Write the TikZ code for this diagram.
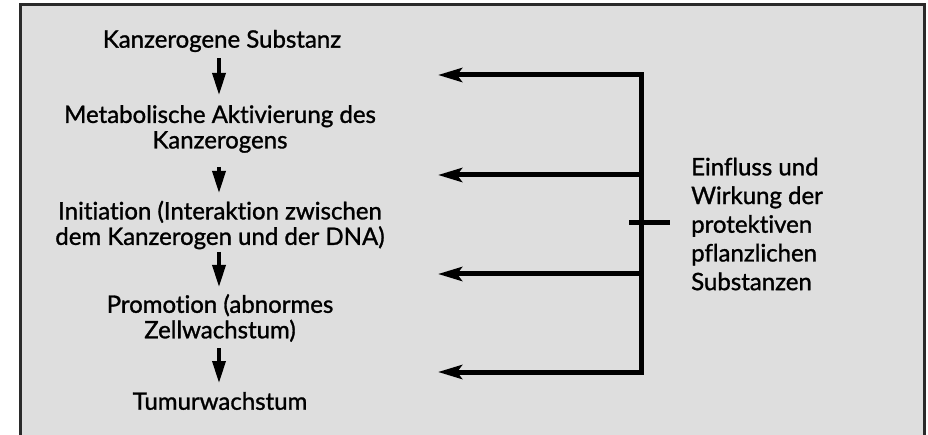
\documentclass[tikz,border=0pt]{standalone}
\usepackage{fontspec}
\setmainfont{Lato}[FakeBold=1.2,Ligatures=NoCommon]
\usetikzlibrary{arrows.meta}
\definecolor{bgray}{HTML}{DEDEDE}
\definecolor{frame}{HTML}{2A2A2A}
\begin{document}
\begin{tikzpicture}[x=1pt,y=-1pt,
  stepbox/.style={align=center,inner sep=0pt,font=\fontsize{24}{25.5}\selectfont},
  sidetext/.style={align=left,inner sep=0pt,anchor=west,font=\fontsize{24}{28.7}\selectfont},
  downarr/.style={line width=3.5pt,-{Triangle[length=22pt,width=13pt]}},
  leftarr/.style={line width=5pt,-{Stealth[length=24pt,width=14pt,inset=5pt]}},
  bar/.style={line width=5pt}]
\useasboundingbox (0,0) rectangle (928,435);
\fill[bgray] (20,4) rectangle (925,435);
\draw[frame,line width=2.5pt] (20.5,435) -- (20.5,4.5) -- (924.5,4.5) -- (924.5,435);
% left column
\node[stepbox] (n1) at (222,41) {Kanzerogene Substanz};
\node[stepbox] (n2) at (220,129) {Metabolische Aktivierung des\\Kanzerogens};
\node[stepbox] (n3) at (220,225) {Initiation (Interaktion zwischen\\dem Kanzerogen und der DNA)};
\node[stepbox] (n4) at (220,318) {Promotion (abnormes\\Zellwachstum)};
\node[stepbox] (n5) at (220,401) {Tumurwachstum};
\draw[downarr] (n1.south) ++(-3,6) -- (219,95);
\draw[downarr] (219,167) -- (219,193);
\draw[downarr] (219,252) -- (219,287);
\draw[downarr] (219,348) -- (219,383);
% right side
\coordinate (j1) at (641,75);
\coordinate (j2) at (641,175);
\coordinate (j3) at (641,274);
\coordinate (j4) at (641,372);
\coordinate (t1) at (438,75);
\coordinate (t2) at (438,175);
\coordinate (t3) at (438,274);
\coordinate (t4) at (438,372);
\coordinate (k1) at (629,223);
\coordinate (k2) at (670,223);
\draw[bar,line cap=rect] (j1) -- (j4);
\draw[leftarr] (j1) -- (t1);
\draw[leftarr] (j2) -- (t2);
\draw[leftarr] (j3) -- (t3);
\draw[leftarr] (j4) -- (t4);
\draw[bar] (k1) -- (k2);
\node[sidetext] (s) at (691,224) {Einfluss und\\Wirkung der\\protektiven\\pflanzlichen\\Substanzen};
\end{tikzpicture}
\end{document}
